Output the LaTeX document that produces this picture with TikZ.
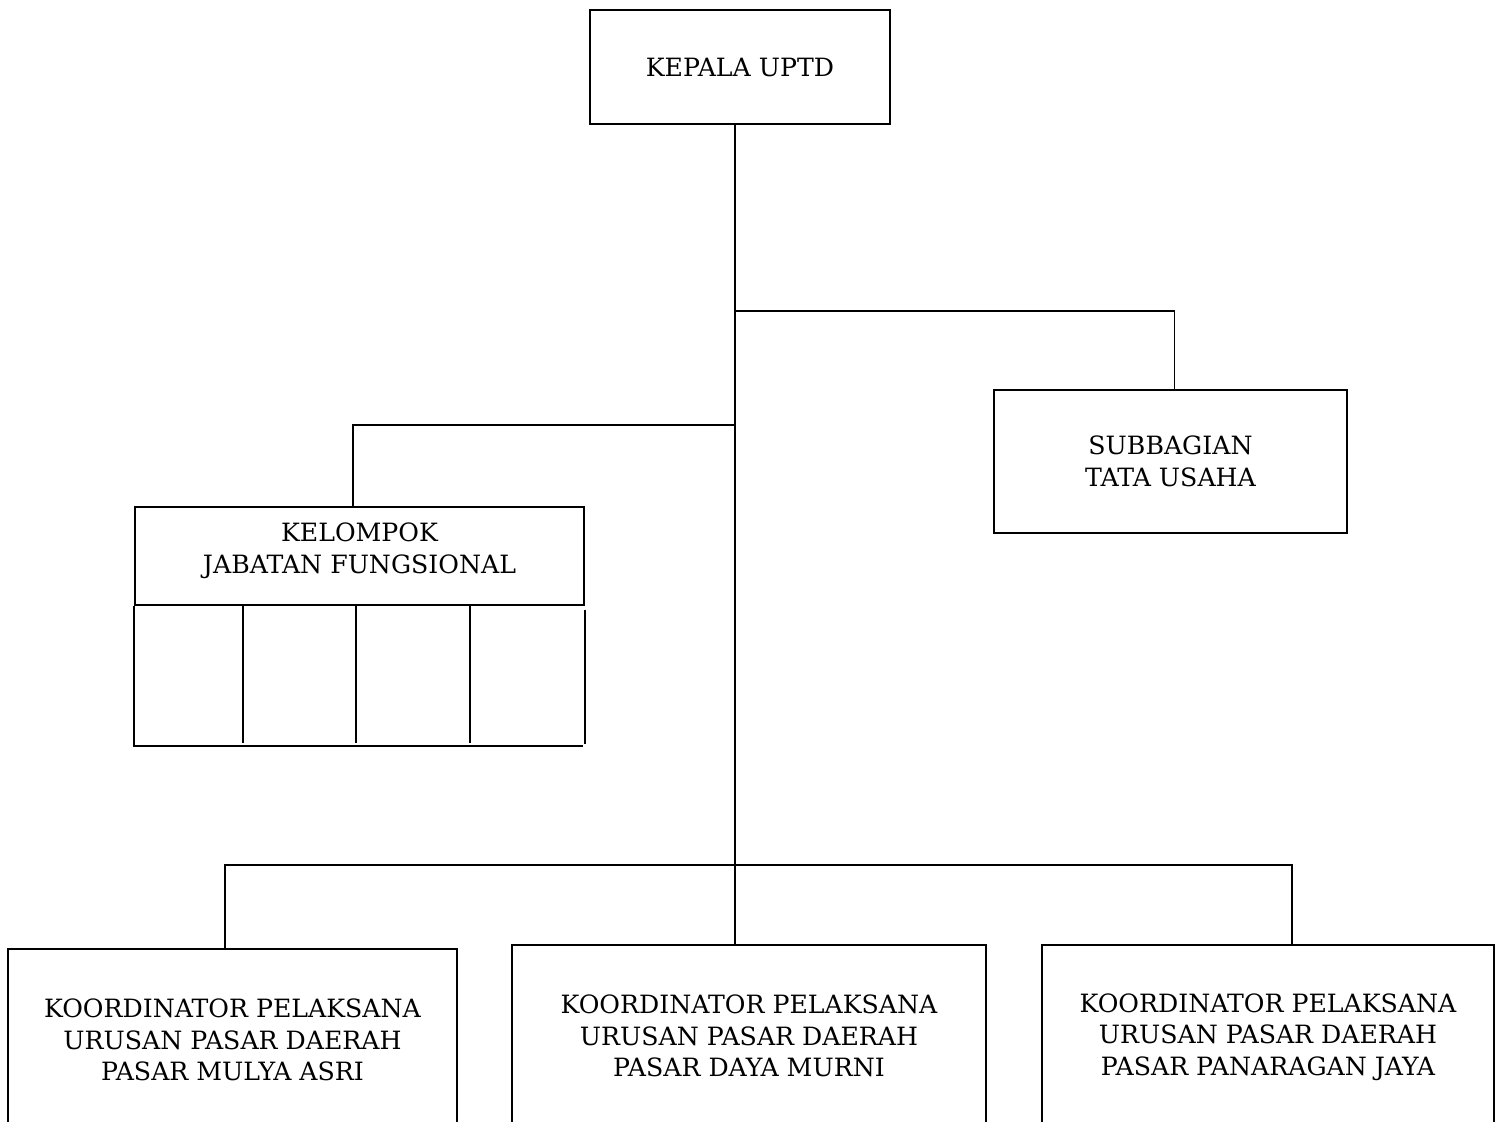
\documentclass[tikz,border=0pt]{standalone}
\usepackage{fontspec}
\setmainfont{DejaVu Serif}
\usepackage{tikz}
\usetikzlibrary{positioning}

\tikzset{
  kotak/.style={rectangle,draw=black,line width=0.9pt,align=center,font=\fontsize{12.6}{15.8}\selectfont},
  garis/.style={line width=0.9pt}
}

\begin{document}
\begin{tikzpicture}[x=0.5pt,y=-0.5pt]
        \useasboundingbox (0,0) rectangle (1498,1122);
        % kotak kepala dan subbagian
        \node[kotak,minimum width=150pt,minimum height=57pt] (kepala) at (740,67) {KEPALA UPTD};
        \node[kotak,minimum width=176.5pt,minimum height=71.5pt] (subbag) at (1170.5,461.5) {SUBBAGIAN\\TATA USAHA};
        \node[kotak,minimum width=224.5pt,minimum height=49pt,inner ysep=0pt] (kelompok) at (359.5,556) {KELOMPOK\\JABATAN FUNGSIONAL\\[-7.8pt]};
        % kotak koordinator (terpotong di bawah)
        \node[kotak,anchor=north,minimum width=224.5pt,minimum height=91pt] (koor1) at (232.5,948) {KOORDINATOR PELAKSANA\\URUSAN PASAR DAERAH\\PASAR MULYA ASRI};
        \node[kotak,anchor=north,minimum width=237pt,minimum height=91pt] (koor2) at (749,944) {KOORDINATOR PELAKSANA\\URUSAN PASAR DAERAH\\PASAR DAYA MURNI};
        \node[kotak,anchor=north,minimum width=226pt,minimum height=92pt] (koor3) at (1268,944) {KOORDINATOR PELAKSANA\\URUSAN PASAR DAERAH\\PASAR PANARAGAN JAYA};

        % titik cabang
        \coordinate (cab1) at (735,311);
        \coordinate (cab2) at (735,425);
        \coordinate (pusat) at (735,865);

        \draw[garis] (pusat |- kepala.south) -- (pusat);
        \draw[garis] (cab1) -| ([xshift=2pt]subbag.north);
        \draw[garis] (cab2) -| ([xshift=-3.25pt]kelompok.north);
        \draw[garis] ([xshift=-3.75pt]koor1.north) |- (pusat) -| ([xshift=12pt]koor3.north);
        \draw[garis] (pusat) -- (pusat |- koor2.north);

        % kolom di bawah kelompok jabatan fungsional
        \draw[garis] (kelompok.south west) -- ++(0,140) -- ++(449,0);
        \draw[garis] ([yshift=-2pt]kelompok.south east) -- ++(0,134);
        \foreach \x in {243,356,470}
            \draw[garis] (\x,605) -- (\x,743);
\end{tikzpicture}
\end{document}
